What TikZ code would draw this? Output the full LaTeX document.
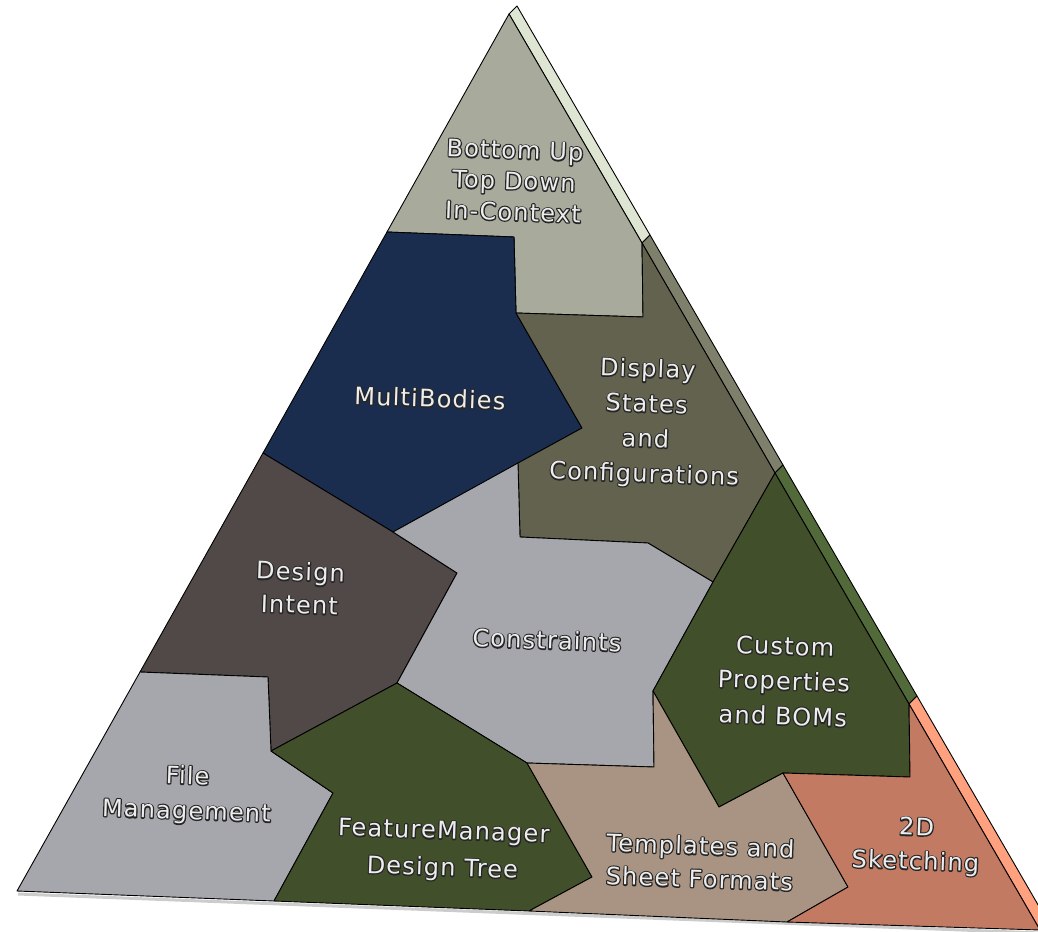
\documentclass[tikz,border=0pt]{standalone}
\usepackage{fontspec}
\newfontfamily\lblfont[LetterSpace=5]{DejaVu Sans}
\definecolor{cBU}{HTML}{A8AB9C}
\definecolor{cBUs}{HTML}{DFE5D3}
\definecolor{cMB}{HTML}{1A2D4F}
\definecolor{cDS}{HTML}{63624F}
\definecolor{cDSs}{HTML}{7F806B}
\definecolor{cDI}{HTML}{514948}
\definecolor{cCO}{HTML}{A6A7AD}
\definecolor{cCP}{HTML}{414F2B}
\definecolor{cCPs}{HTML}{52693A}
\definecolor{cTP}{HTML}{A99483}
\definecolor{cSK}{HTML}{C27A63}
\definecolor{cSKs}{HTML}{FFA07E}
\newcommand\strokeon{\special{pdf:literal direct 1 Tr 2.4 w 1 j 0.15 0.15 0.15 RG}}
\newcommand\strokeoff{\special{pdf:literal direct 0 Tr}}
\tikzset{
  piece/.style={draw=black, line width=0.9pt, line join=round},
  lbl/.style={align=center, inner sep=0pt, rotate=-2, text=white!93!black,
    font=\lblfont\fontsize{24}{#1}\selectfont},
  lbl/.default=34,
}
\newcommand\lbl[4][34]{%
  \node[lbl=#1] (#2-o) at (#3) {\strokeon #4\strokeoff};
  \node[lbl=#1] (#2) at (#3) {#4};
}
\begin{document}
\begin{tikzpicture}[x=1pt,y=-1pt]
\useasboundingbox (0,0) rectangle (1038,931);
\clip (0,0) rectangle (1038,931);
% soft shadow under bottom edge
\draw[black!20, line width=3pt] (18,894) -- (1040,933);
% side strip
\path[piece, fill=cBUs] (509,14) -- (517,6) -- (650,235) -- (642,243) -- cycle;
\path[piece, fill=cDSs] (642,243) -- (650,235) -- (783,465) -- (775,473) -- cycle;
\path[piece, fill=cCPs] (775,473) -- (783,465) -- (917,696) -- (909,704) -- cycle;
\path[piece, fill=cSKs] (909,704) -- (917,696) -- (1048,922) -- (1040,930) -- cycle;
% pieces
\path[piece, fill=cBU] (509,14) -- (642,243) -- (643,317) -- (516,313) -- (514,237) -- (387,232) -- cycle;
\path[piece, fill=cMB] (387,232) -- (514,237) -- (516,313) -- (582,428) -- (393,532) -- (263,453) -- cycle;
\path[piece, fill=cDS] (516,313) -- (643,317) -- (642,243) -- (775,473) -- (713,582) -- (648,543) -- (520,537) -- (518,463) -- (582,428) -- cycle;
\path[piece, fill=cDI] (263,453) -- (393,532) -- (457,573) -- (397,683) -- (271,751) -- (268,677) -- (140,672) -- cycle;
\path[piece, fill=cCO] (393,532) -- (518,463) -- (520,537) -- (648,543) -- (713,582) -- (653,691) -- (654,767) -- (527,763) -- (397,683) -- (457,573) -- cycle;
\path[piece, fill=cCP] (775,473) -- (909,704) -- (910,777) -- (783,773) -- (719,807) -- (653,691) -- (713,582) -- cycle;
\path[piece, fill=cCO] (140,672) -- (268,677) -- (271,751) -- (333,793) -- (274,901) -- (17,891) -- cycle;
\path[piece, fill=cCP] (397,683) -- (527,763) -- (592,877) -- (529,911) -- (274,901) -- (333,793) -- (271,751) -- cycle;
\path[piece, fill=cTP] (527,763) -- (654,767) -- (653,691) -- (719,807) -- (783,773) -- (848,887) -- (787,922) -- (529,911) -- (592,877) -- cycle;
\path[piece, fill=cSK] (909,704) -- (1040,930) -- (787,922) -- (848,887) -- (783,773) -- (910,777) -- cycle;
% labels
\lbl[31]{bu}{514,181}{Bottom Up\\Top Down\\In-Context}
\lbl{mb}{430,398}{MultiBodies}
\lbl[35]{ds}{646,423}{Display\\States\\and\\Configurations}
\lbl[33]{di}{300,588}{Design\\Intent}
\lbl{co}{547,640}{Constraints}
\lbl[35]{cp}{784,681}{Custom\\Properties\\and BOMs}
\lbl[35]{fm}{187,795}{File\\Management}
\lbl[37]{fd}{443,851}{FeatureManager\\Design Tree}
\lbl[33]{tp}{700,862}{Templates and\\Sheet Formats}
\lbl[34]{sk}{916,846}{2D\\Sketching}
\end{tikzpicture}
\end{document}
